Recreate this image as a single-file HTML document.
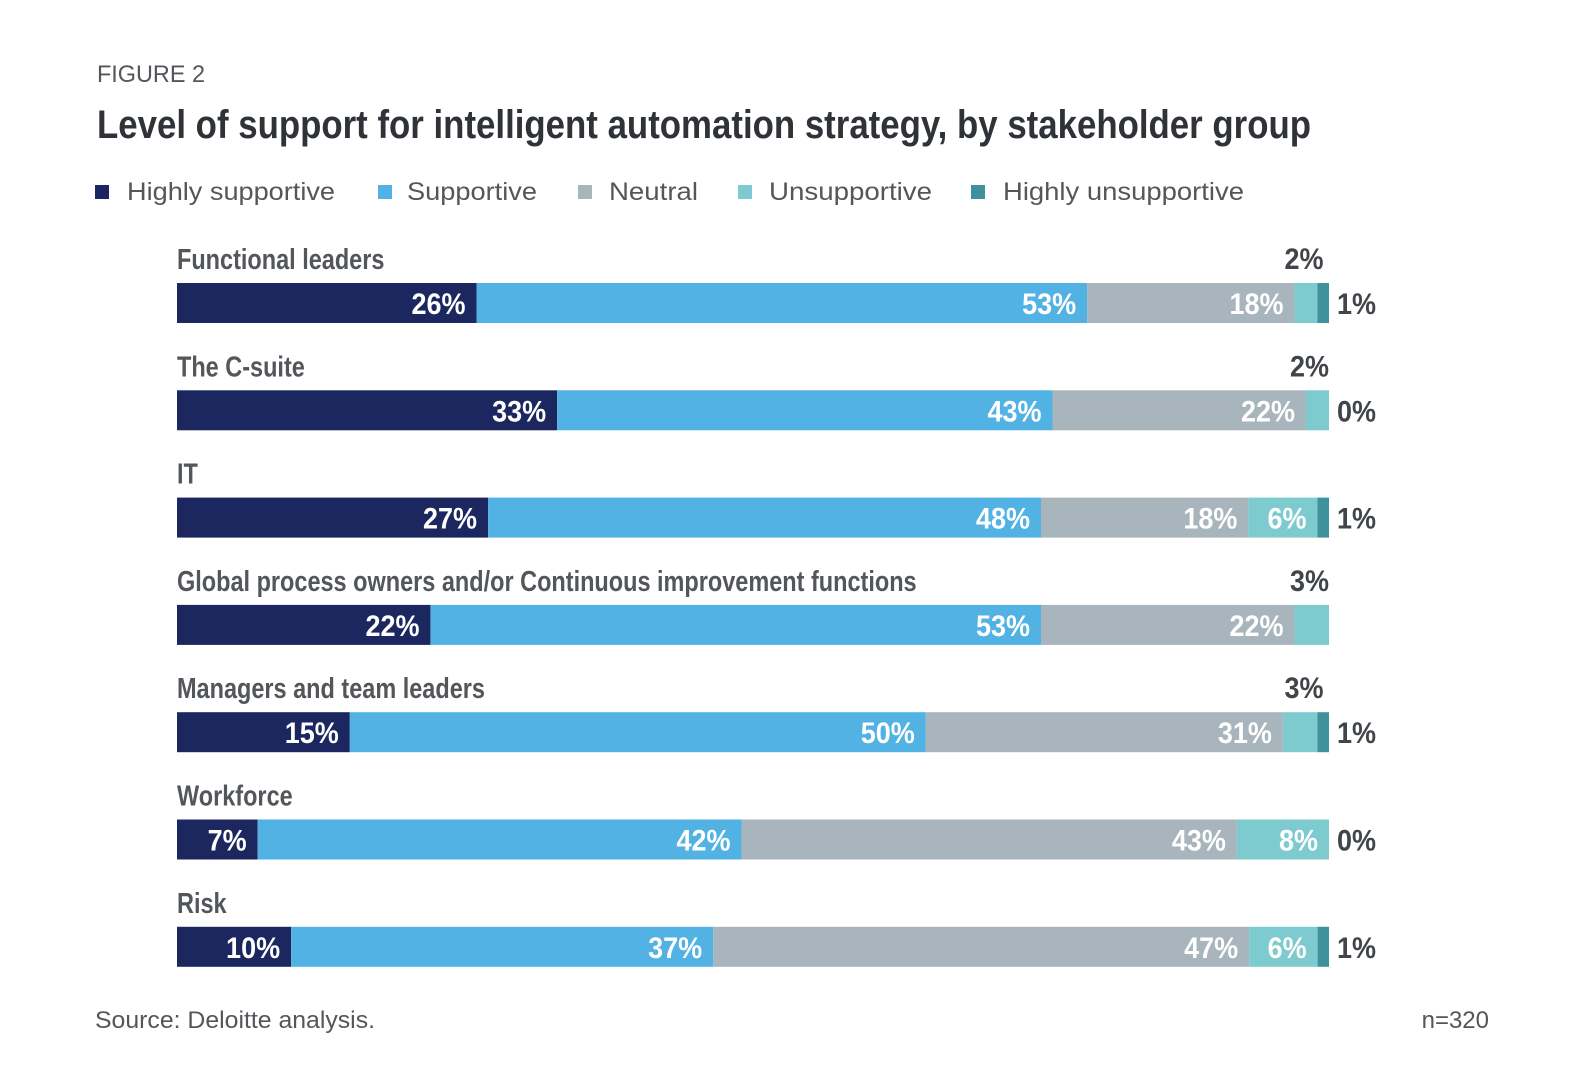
<!DOCTYPE html>
<html><head><meta charset="utf-8"><style>
html,body{margin:0;padding:0;background:#fff;}
svg{display:block;}
text{font-family:"Liberation Sans",sans-serif;}
</style></head><body>
<svg id="chart" width="1592" height="1092" viewBox="0 0 1592 1092" xmlns="http://www.w3.org/2000/svg">
<text x="97" y="82" font-size="24" fill="#53565a" textLength="108" lengthAdjust="spacingAndGlyphs">FIGURE 2</text>
<text x="97" y="138" font-size="40" font-weight="bold" fill="#2f3237" textLength="1214" lengthAdjust="spacingAndGlyphs">Level of support for intelligent automation strategy, by stakeholder group</text>
<g id="legend"></g>
<g id="bars"></g>
<text x="95" y="1028" font-size="24" fill="#53565a" textLength="280" lengthAdjust="spacingAndGlyphs">Source: Deloitte analysis.</text>
<text x="1489" y="1028" font-size="24" fill="#53565a" text-anchor="end">n=320</text>
</svg>
<script>
const categories = ["Functional leaders","The C-suite","IT","Global process owners and/or Continuous improvement functions","Managers and team leaders","Workforce","Risk"];
const highlySupportive = [26,33,27,22,15,7,10];
const supportive = [53,43,48,53,50,42,37];
const neutral = [18,22,18,22,31,43,47];
const unsupportive = [2,2,6,3,3,8,6];
const highlyUnsupportive = [1,0,1,0,1,0,1];
const showHighlyUnsupportiveLabel = [true,true,true,false,true,true,true];
const seriesNames = ["Highly supportive","Supportive","Neutral","Unsupportive","Highly unsupportive"];

const colors = ["#1b275e","#52b2e4","#a8b5bc","#7ecbcf","#3f929c"];
const NS = "http://www.w3.org/2000/svg";
const X0 = 177, X1 = 1329, Y0 = 283, PITCH = 107.3, BH = 40;
const legendSq = [95,378,578,738,971];
const legendTx = [[127,208],[407,130],[609,89],[769,163],[1003,241]];

function mk(tag, attrs, parent){const e=document.createElementNS(NS,tag);for(const k in attrs)e.setAttribute(k,attrs[k]);parent.appendChild(e);return e;}
function xScale(v,total){return (X1-X0)*v/total;}
function yScale(i){return Y0+i*PITCH;}

const legend=document.getElementById('legend');
seriesNames.forEach((n,i)=>{
  const r=mk('rect',{x:legendSq[i],y:185,width:14,height:14,fill:colors[i]},legend);
  
  
  const t=mk('text',{x:legendTx[i][0],y:200,'font-size':25,fill:'#53565a',textLength:legendTx[i][1],lengthAdjust:'spacingAndGlyphs'},legend);
  t.textContent=n;
  
  
});

function condText(parent,x,y,txt,size,fill,anchor,sx){
  const g=mk('g',{transform:`translate(${x},${y}) scale(${sx},1)`},parent);
  const t=mk('text',{x:0,y:0,'font-size':size,'font-weight':'bold',fill:fill,'text-anchor':anchor},g);
  t.textContent=txt;
  return t;
}

const bars=document.getElementById('bars');
const series=[highlySupportive,supportive,neutral,unsupportive,highlyUnsupportive];
categories.forEach((c,i)=>{
  const y=yScale(i);
  const g=mk('g',{},bars);
  
  
  const lab=condText(g,X0,y-14,c,29,'#53565a','start',0.81);
  
  
  const total=series.reduce((s,a)=>s+a[i],0);
  let x=X0;
  series.forEach((arr,k)=>{
    const w=xScale(arr[i],total);
    if(w>0){
      const r=mk('rect',{x:x,y:y,width:w,height:BH,fill:colors[k]},g);
      
      
    }
    const end=x+w;
    if(k<4){
      if(arr[i]>=5){
        const t=condText(g,end-11,y+31,arr[i]+'%',30,'#fff','end',0.9);
        
        
      } else {
        const t=condText(g,Math.min(end+6,X1),y-14,arr[i]+'%',30,'#414549','end',0.9);
        
        
      }
    } else if(showHighlyUnsupportiveLabel[i]){
      const t=condText(g,X1+8,y+31,arr[i]+'%',30,'#414549','start',0.9);
      
      
    }
    x=end;
  });
});
</script>
</body></html>
